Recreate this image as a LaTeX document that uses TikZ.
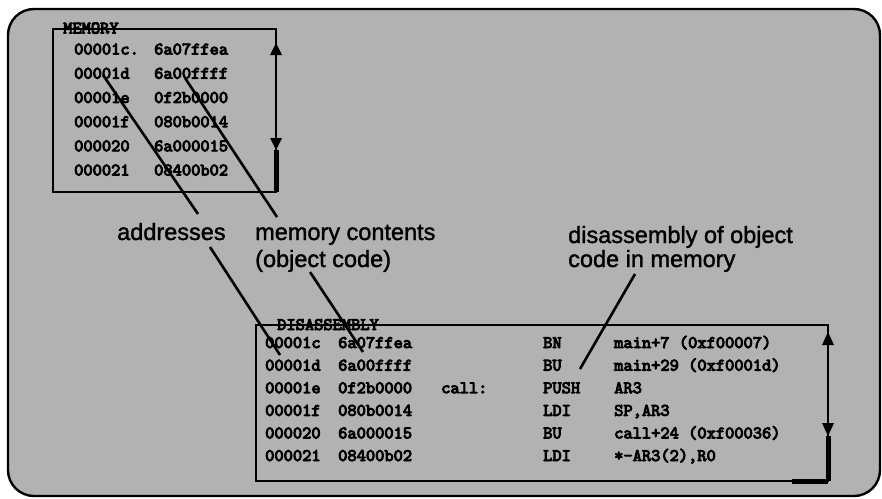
\documentclass[tikz,border=0pt]{standalone}
\usepackage{fontspec}
\setsansfont{Liberation Sans}
\newfontfamily\cmono{lmmono10-regular.otf}[FakeBold=5]
\newfontfamily\lblsans{Liberation Sans}[FakeBold=1.5]
\definecolor{bggray}{RGB}{178,178,178}
\begin{document}
\begin{tikzpicture}[x=1pt,y=-1pt,
  mono/.style={inner sep=0pt, anchor=base west, font=\cmono\fontsize{17.6}{20}\selectfont},
  lbl/.style={inner sep=0pt, anchor=base west, font=\lblsans\fontsize{23.5}{27}\selectfont},
  boxline/.style={line width=2.2pt},
  leader/.style={line width=2.6pt},
  thumb/.style={line width=5pt},
]
\useasboundingbox (0,0) rectangle (882,498);
% outer frame
\draw[line width=2.4pt, fill=bggray, rounded corners=26pt] (8,9) rectangle (880,496);

% ---------- MEMORY window ----------
\coordinate (mtl) at (53,29);
\coordinate (mbr) at (276,192);
\draw[boxline] (mtl) rectangle (mbr);
\node[mono] (mtitle) at (63,33.5) {MEMORY};
% scrollbar
\fill (276,43) -- (282,55) -- (270,55) -- cycle;
\fill (276,150) -- (270,138) -- (282,138) -- cycle;
\draw[thumb] (276,150) -- (mbr);
% rows
\foreach \i/\a/\c in {0/00001c./6a07ffea,1/00001d/6a00ffff,2/00001e/0f2b0000,3/00001f/080b0014,4/000020/6a000015,5/000021/08400b02}{
  \node[mono] (ma\i) at (74,54.5+24.2*\i) {\a};
  \node[mono] (mc\i) at (154,54.5+24.2*\i) {\c};
}

% ---------- DISASSEMBLY window ----------
\coordinate (dtl) at (256,325);
\coordinate (dbr) at (828,481);
\draw[boxline] (dtl) rectangle (dbr);
\node[mono] (dtitle) at (277,330) {DISASSEMBLY};
% scrollbar
\fill (828,332) -- (834,345) -- (822,345) -- cycle;
\fill (828,436) -- (822,423) -- (834,423) -- cycle;
\draw[thumb] (828,436) -- (dbr);
\draw[thumb] (792,481) -- (dbr);
% rows
\foreach \i/\a/\c/\l/\m/\o in {
  0/00001c/6a07ffea//BN/main+7 (0xf00007),
  1/00001d/6a00ffff//BU/main+29 (0xf0001d),
  2/00001e/0f2b0000/call:/PUSH/AR3,
  3/00001f/080b0014//LDI/{SP,AR3},
  4/000020/6a000015//BU/call+24 (0xf00036),
  5/000021/08400b02//LDI/{*-AR3(2),R0}}{
  \node[mono] (da\i) at (265,348+22.6*\i) {\a};
  \node[mono] (dc\i) at (338,348+22.6*\i) {\c};
  \node[mono] (dl\i) at (441,348+22.6*\i) {\l};
  \node[mono] (dm\i) at (543,348+22.6*\i) {\m};
  \node[mono] (do\i) at (614,348+22.6*\i) {\o};
}

% ---------- labels ----------
\node[lbl] (addr) at (117,240) {addresses};
\node[lbl] (memc1) at (255,240) {memory contents};
\node[lbl] (memc2) at (255,267) {(object code)};
\node[lbl] (dis1) at (568,243) {disassembly of object};
\node[lbl] (dis2) at (568,267) {code in memory};

% ---------- leader lines ----------
\coordinate (a1) at (103,75);
\coordinate (a2) at (198,214);
\coordinate (a3) at (210,247);
\coordinate (a4) at (280,355);
\coordinate (c1) at (185,78);
\coordinate (c2) at (277,217);
\coordinate (c3) at (310,272);
\coordinate (c4) at (363,352);
\coordinate (d1) at (635,274);
\coordinate (d2) at (580,369);
\draw[leader] (a1) -- (a2);
\draw[leader] (a3) -- (a4);
\draw[leader] (c1) -- (c2);
\draw[leader] (c3) -- (c4);
\draw[leader] (d1) -- (d2);
\end{tikzpicture}
\end{document}
